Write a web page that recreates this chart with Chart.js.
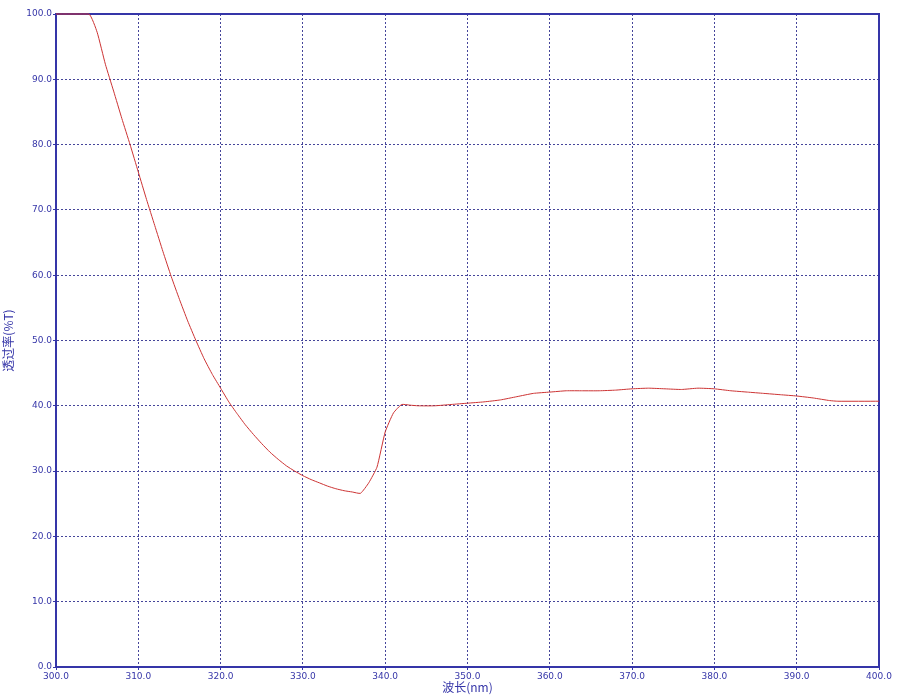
<!DOCTYPE html>
<html>
<head>
<meta charset="utf-8">
<script src="https://cdn.jsdelivr.net/npm/chart.js@4"></script>
<style>
html, body { margin: 0; padding: 0; background: #fff; }
#wrap { width: 900px; height: 697px; }
</style>
</head>
<body>
<div id="wrap"><canvas id="myChart"></canvas></div>
<script>
// wavelength (nm) and transmittance (%T)
var waveNm = [300, 304, 305, 306, 307, 308, 309, 310, 311, 312, 313, 314, 315, 316, 317, 318, 319, 320,
  321, 322, 323, 324, 325, 326, 327, 328, 329, 330, 331, 332, 333, 334, 335, 336, 337, 338, 339, 340,
  341, 342, 343, 344, 346, 348, 350, 352, 354, 356, 358, 360, 362, 364, 366, 368, 370, 372, 374, 376,
  378, 380, 382, 384, 386, 388, 390, 392, 394, 395, 400];
var transT = [100, 100, 97.2, 92.3, 88.2, 84.0, 80.0, 75.8, 71.6, 67.6, 63.6, 59.8, 56.3, 53.0, 50.0, 47.2, 44.8, 42.7,
  40.6, 38.8, 37.1, 35.6, 34.2, 32.9, 31.8, 30.8, 30.0, 29.3, 28.7, 28.2, 27.7, 27.3, 27.0, 26.8, 26.6, 28.2, 30.6, 36.0,
  38.9, 40.2, 40.1, 40.0, 40.0, 40.2, 40.4, 40.6, 40.9, 41.4, 41.9, 42.1, 42.3, 42.3, 42.3, 42.4, 42.6, 42.7, 42.6, 42.5,
  42.7, 42.6, 42.3, 42.1, 41.9, 41.7, 41.5, 41.2, 40.8, 40.7, 40.7];

var blue = "#3535a8"
var pts = []
for (var i = 0; i < waveNm.length; i++) {
  pts.push({x: waveNm[i], y: transT[i]})
}

// box round the plot area, drawn under the curve
var frame = {
  id: "frame",
  beforeDatasetsDraw: function(chart) {
    var a = chart.chartArea
    var ctx = chart.ctx
    ctx.save()
    ctx.strokeStyle = blue
    ctx.lineWidth = 2
    ctx.strokeRect(a.left, a.top, a.right - a.left, a.bottom - a.top)
    ctx.restore()
  }
}

new Chart("myChart", {
  type: "line",
  data: {
    datasets: [{
      data: pts,
      borderColor: "#cc3333",
      borderWidth: 1,
      pointRadius: 0,
      tension: 0.15,
      fill: false,
      clip: 2
    }]
  },
  plugins: [frame],
  options: {
    responsive: true,
    maintainAspectRatio: false,
    animation: false,
    layout: { padding: { left: 0, right: 21, top: 14, bottom: 0 } },
    plugins: { legend: { display: false }, tooltip: { enabled: false } },
    scales: {
      x: {
        type: "linear",
        min: 300,
        max: 400,
        afterFit: function(s) { s.height = 30 },
        ticks: {
          stepSize: 10,
          color: blue,
          padding: 1,
          maxRotation: 0,
          font: { family: "DejaVu Sans", size: 9 },
          callback: function(v) { return v.toFixed(1) }
        },
        grid: { color: "#45459a", lineWidth: 1, tickLength: 3, tickColor: blue, tickBorderDash: [] },
        border: { color: blue, width: 2, dash: [2, 2] },
        title: {
          display: true,
          text: "波长(nm)",
          color: blue,
          padding: { top: 0, bottom: 2 },
          font: { family: "Noto Sans CJK SC", size: 12, lineHeight: 1.2 }
        }
      },
      y: {
        min: 0,
        max: 100,
        afterFit: function(s) { s.width = 56 },
        ticks: {
          stepSize: 10,
          color: blue,
          padding: 1,
          font: { family: "DejaVu Sans", size: 9 },
          callback: function(v) { return v.toFixed(1) }
        },
        grid: { color: "#45459a", lineWidth: 1, tickLength: 3, tickColor: blue, tickBorderDash: [] },
        border: { color: blue, width: 2, dash: [2, 2] },
        title: {
          display: true,
          text: "透过率(%T)",
          color: blue,
          padding: { top: 1, bottom: 0 },
          font: { family: "Noto Sans CJK SC", size: 12, lineHeight: 1.2 }
        }
      }
    }
  }
});
</script>
</body>
</html>
